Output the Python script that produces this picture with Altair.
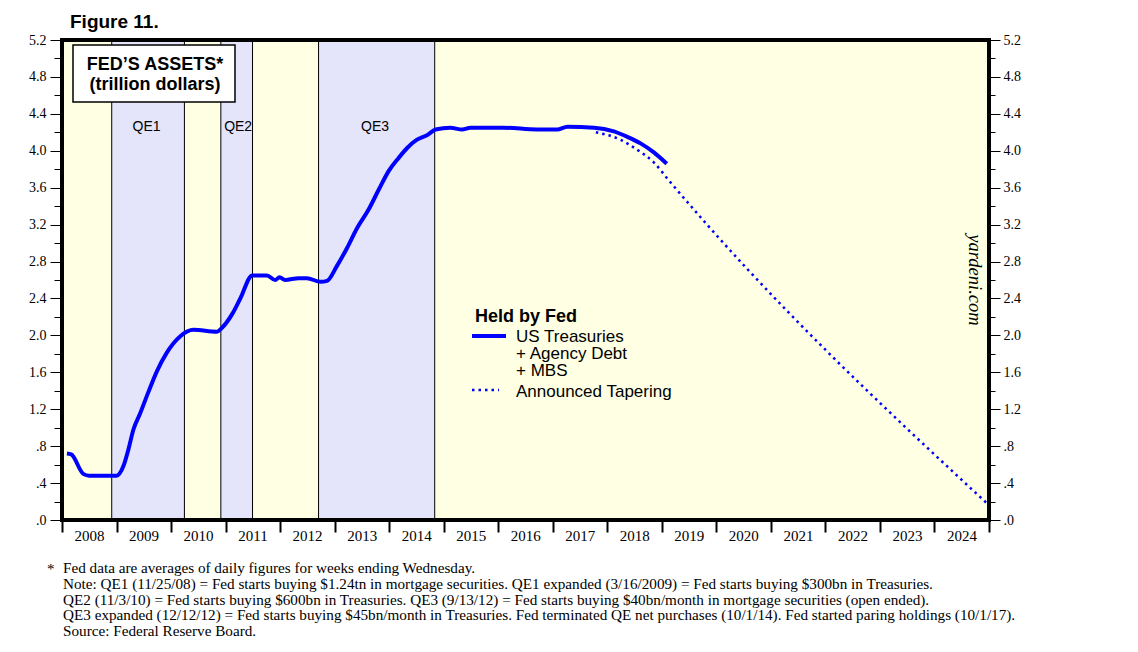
import altair as alt
import pandas as pd

# ---------------- data ----------------
years = [2008.09, 2008.17, 2008.39, 2008.5, 2008.88, 2009.0, 2009.13, 2009.22, 2009.31, 2009.43,
         2009.58, 2009.74, 2009.92, 2010.17, 2010.41, 2010.84, 2010.93, 2011.12, 2011.27, 2011.49,
         2011.76, 2011.91, 2011.99, 2012.09, 2012.34, 2012.49, 2012.74, 2012.86, 2013.04, 2013.23,
         2013.41, 2013.62, 2013.81, 2013.99, 2014.17, 2014.33, 2014.51, 2014.70, 2014.85, 2015.12,
         2015.34, 2015.49, 2016.10, 2016.71, 2017.08, 2017.27, 2017.76, 2018.12, 2018.37, 2018.61,
         2018.86, 2019.09]
assets = [0.72, 0.71, 0.50, 0.48, 0.48, 0.48, 0.59, 0.77, 0.98, 1.15,
          1.38, 1.61, 1.81, 1.99, 2.06, 2.04, 2.08, 2.23, 2.40, 2.65,
          2.65, 2.60, 2.63, 2.60, 2.62, 2.62, 2.58, 2.59, 2.75, 2.95,
          3.16, 3.36, 3.58, 3.78, 3.92, 4.03, 4.12, 4.17, 4.23, 4.25,
          4.23, 4.25, 4.25, 4.23, 4.23, 4.26, 4.25, 4.21, 4.15, 4.08,
          3.98, 3.86]
taper_years = [2017.79, 2018.24, 2018.55, 2018.86, 2019.10, 2025.0]
taper_vals = [4.20, 4.12, 4.01, 3.87, 3.70, 0.16]

band_starts = [2008.0, 2008.912, 2010.245, 2010.913, 2011.494, 2012.705, 2014.835]
band_ends = [2008.912, 2010.245, 2010.913, 2011.494, 2012.705, 2014.835, 2025.0]
band_kind = ["off", "QE", "off", "QE", "off", "QE", "off"]

qe_names = ["QE1", "QE2", "QE3"]
qe_centers = [2009.55, 2011.23, 2013.74]

year_ticks = list(range(2008, 2026))
y_ticks = [round(0.2 * i, 1) for i in range(27)]

footnotes = [
    "Fed data are averages of daily figures for weeks ending Wednesday.",
    "Note: QE1 (11/25/08) = Fed starts buying $1.24tn in mortgage securities. QE1 expanded (3/16/2009) = Fed starts buying $300bn in Treasuries.",
    "QE2 (11/3/10) = Fed starts buying $600bn in Treasuries. QE3 (9/13/12) = Fed starts buying $40bn/month in mortgage securities (open ended).",
    "QE3 expanded (12/12/12) = Fed starts buying $45bn/month in Treasuries. Fed terminated QE net purchases (10/1/14). Fed started paring holdings (10/1/17).",
    "Source: Federal Reserve Board.",
]

# ---------------- setup ----------------
W, H = 927, 480
SANS = "Liberation Sans"
SERIF = "Liberation Serif"
BLUE = "#0000FF"

main_df = pd.DataFrame({"year": years, "v": assets})
taper_df = pd.DataFrame({"year": taper_years, "v": taper_vals})
bands_df = pd.DataFrame({"start": band_starts, "end": band_ends, "kind": band_kind})
edges_df = pd.DataFrame({"b": band_starts[1:]})
qe_df = pd.DataFrame({"name": qe_names, "x": qe_centers})
one = pd.DataFrame({"d": [0]})

xs = alt.Scale(domain=[2008, 2025], nice=False, zero=False)
ys = alt.Scale(domain=[0, 5.2], nice=False, zero=True)

major_test = "round(datum.value*10) % 4 == 0"
label_expr = ("round(datum.value*10) % 4 != 0 ? '' : (datum.value < 1 ? '.' + round(datum.value*10) "
              ": format(datum.value, '.1f'))")

x_axis = alt.Axis(orient="bottom", values=year_ticks, format="d",
                  labelExpr="datum.value >= 2025 ? '' : datum.label",
                  labelOffset=27, tickSize=12, tickWidth=2, tickColor="black", domain=False,
                  grid=False, title=None, labelFont=SERIF, labelFontSize=15, labelColor="black",
                  labelPadding=-4, labelOverlap=False, labelBound=False, labelFlush=False)

def y_axis(orient, major, minor, pad):
    return alt.Axis(orient=orient, values=y_ticks, labelExpr=label_expr,
                    tickSize={"condition": {"test": major_test, "value": major}, "value": minor},
                    tickColor="black", tickWidth=1, domain=False, grid=False, title=None,
                    labelFont=SERIF, labelFontSize=14, labelColor="black", labelPadding=pad,
                    labelOverlap=False, labelBound=False, labelFlush=False)

bands = alt.Chart(bands_df).mark_rect().encode(
    x=alt.X("start:Q", scale=xs, axis=x_axis),
    x2="end:Q",
    y=alt.value(0), y2=alt.value(H),
    color=alt.Color("kind:N", scale=alt.Scale(domain=["off", "QE"], range=["#FFFFE3", "#E4E4FA"]),
                    legend=None),
)

edges = alt.Chart(edges_df).mark_rule(color="black", strokeWidth=1).encode(
    x=alt.X("b:Q", scale=xs, axis=x_axis), y=alt.value(0), y2=alt.value(H))

qe_text = alt.Chart(qe_df).mark_text(font=SANS, fontSize=14, color="black", baseline="middle",
                                     align="center").encode(
    x=alt.X("x:Q", scale=xs, axis=x_axis), y=alt.value(87), text="name:N")

main_line = alt.Chart(main_df).mark_line(color=BLUE, strokeWidth=4, interpolate="monotone",
                                         strokeJoin="round").encode(
    x=alt.X("year:Q", scale=xs, axis=x_axis),
    y=alt.Y("v:Q", scale=ys, axis=y_axis("left", 12, 8, 4)))

taper_line = alt.Chart(taper_df).mark_line(color=BLUE, strokeWidth=2.5, strokeDash=[2.5, 4],
                                           interpolate="monotone").encode(
    x=alt.X("year:Q", scale=xs, axis=x_axis),
    y=alt.Y("v:Q", scale=ys, axis=None))

right_layer = alt.Chart(main_df).mark_line(opacity=0).encode(
    x=alt.X("year:Q", scale=xs, axis=x_axis),
    y=alt.Y("v:Q", scale=ys, axis=y_axis("right", 11, 6, 3)))

def txt(text, x, y, size, font=SANS, weight="normal", align="left", baseline="alphabetic",
        angle=0, style="normal"):
    return alt.Chart(one).mark_text(text=text, font=font, fontSize=size, fontWeight=weight,
                                    align=align, baseline=baseline, angle=angle, fontStyle=style,
                                    color="black").encode(x=alt.value(x), y=alt.value(y))

title_box = alt.Chart(one).mark_rect(fill="white", stroke="black", strokeWidth=1.5).encode(
    x=alt.value(11), x2=alt.value(173), y=alt.value(5), y2=alt.value(62))

border = alt.Chart(one).mark_rect(fillOpacity=0, stroke="black", strokeWidth=4).encode(
    x=alt.value(0), x2=alt.value(W), y=alt.value(0), y2=alt.value(H))

leg_solid = alt.Chart(one).mark_rule(color=BLUE, strokeWidth=4).encode(
    x=alt.value(410), x2=alt.value(444), y=alt.value(296))
leg_dot = alt.Chart(one).mark_rule(color=BLUE, strokeWidth=2.5, strokeDash=[2.5, 4]).encode(
    x=alt.value(410), x2=alt.value(437), y=alt.value(350))

texts = [
    txt("Figure 11.", 8, -12, 19, weight="bold"),
    txt("FED\u2019S ASSETS*", 93, 30, 18, weight="bold", align="center"),
    txt("(trillion dollars)", 93, 50, 18, weight="bold", align="center"),
    txt("Held by Fed", 413, 282, 18, weight="bold"),
    txt("US Treasuries", 454, 302, 17),
    txt("+ Agency Debt", 454, 319, 17),
    txt("+ MBS", 454, 336, 17),
    txt("Announced Tapering", 454, 357, 17),
    txt("yardeni.com", 913, 240, 18.5, font=SERIF, align="center", baseline="middle", angle=90,
        style="italic"),
    txt("*", -15, 534, 15, font=SERIF),
]
for i, line in enumerate(footnotes):
    texts.append(txt(line, 1, 533 + i * 15.8, 15.2, font=SERIF))

chart = alt.layer(bands, edges, qe_text, main_line, taper_line, title_box, leg_solid, leg_dot,
                  *texts, border, right_layer).resolve_scale(y="independent").properties(
    width=W, height=H,
    autosize=alt.AutoSizeParams(type="none"),
    padding={"left": 54, "top": 32, "right": 140, "bottom": 130},
    background="white",
).configure_view(strokeWidth=0)

chart.save("out.html", embed_options={"renderer": "svg", "actions": False})
